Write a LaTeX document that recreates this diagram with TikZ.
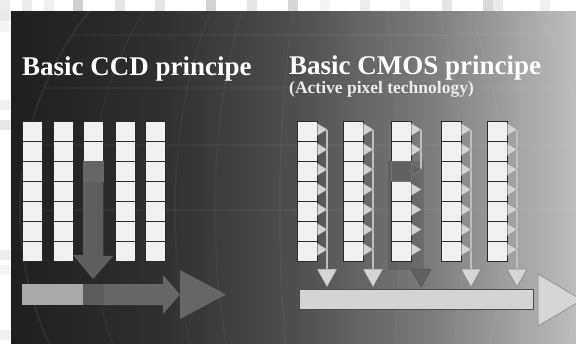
\documentclass[tikz,border=0pt]{standalone}
\usepackage{fontspec}
\setmainfont{Liberation Serif}

\definecolor{panelA}{HTML}{1F1F1F}
\definecolor{panelB}{HTML}{2E2E2E}
\definecolor{panelC}{HTML}{4E4E4E}
\definecolor{panelD}{HTML}{7E7E7E}
\definecolor{panelE}{HTML}{BEBEBE}
\definecolor{cellfill}{HTML}{F0F0F0}
\definecolor{cellline}{HTML}{2A2A2A}
\definecolor{ccdgray}{HTML}{666666}
\definecolor{ccdlight}{HTML}{A9A9A9}
\definecolor{cmosfill}{HTML}{D4D4D4}

\pgfdeclarehorizontalshading{panelshade}{100bp}{color(0bp)=(panelA); color(25bp)=(panelA);
  color(37.5bp)=(panelB); color(50bp)=(panelC); color(62.5bp)=(panelD); color(75bp)=(panelE);
  color(100bp)=(panelE)}

\tikzset{
  cell/.style={rectangle,draw=cellline,fill=cellfill,line width=0.8pt,
    minimum width=19.6pt,minimum height=20pt,inner sep=0pt,anchor=north west},
  title/.style={anchor=base west,inner sep=0pt,text=white,
    font=\bfseries\fontsize{27}{30}\selectfont},
  subtitle/.style={anchor=base west,inner sep=0pt,text=white!92!black,
    font=\bfseries\fontsize{17.5}{19}\selectfont},
  tap/.style={fill=cmosfill,draw=black!45,line width=0.3pt},
  busline/.style={draw=black!25,line width=1.1pt},
  outtri/.style={fill=cmosfill!95!white,draw=black!50,line width=0.5pt}
}

% one CMOS column: left edge, tap x, column index
\newcommand{\cmoscol}[3]{
  \foreach \r in {1,...,7}{
    \node [cell] (m#3\r) at (#1,{121+20*(\r-1)}) {};
    \fill [tap] (m#3\r.north east) ++(0,2.5) -- ++(10,6) -- ++(-10,6) -- cycle;
  }
}

\begin{document}
\begin{tikzpicture}[x=1pt,y=-1pt]
  \useasboundingbox (0,0) rectangle (576,343);

  % frame strips
  \fill [white] (0,0) rectangle (576,343);
  \foreach \x/\g in {0/7,22/8,44/6,73/18,115/10,155/10,206/17,247/10,288/16,
    320/4,360/7,400/5,442/10,483/15,493/8,540/6}
    \fill [black!\g] (\x,0) rectangle ++(10,11);
  \foreach \y/\g in {11/8,22/4,100/6,120/9,250/7,265/4,330/6}
    \fill [black!\g] (0,\y) rectangle ++(11,10);

  % panel with faint globe
  \coordinate (pnw) at (11,11);
  \coordinate (pse) at (576,343);
  \shade [shading=panelshade] (pnw) rectangle (pse);
  \begin{scope}
    \clip (pnw) rectangle (pse);
    \coordinate (gc) at (340,210);
    \draw [white,opacity=0.06,line width=2pt] (gc) circle [radius=320];
    \foreach \rx in {60,125,165,250}
      \draw [white,opacity=0.04,line width=1.5pt] (gc) ellipse [x radius=\rx,y radius=320];
    \foreach \dy/\hw in {-175/268,-122/296,-65/313,0/320}
      \draw [white,opacity=0.04,line width=1.5pt] (gc) ++(-\hw,\dy) -- ++({2*\hw},0);
  \end{scope}

  % ---- CCD ----
  \node [title] (ccdtitle) at (22,75) {Basic CCD principe};

  \foreach \c/\x in {1/22,2/53,4/115,5/145}
    \foreach \r in {1,...,7}
      \node [cell] (d\c\r) at (\x,{121+20*(\r-1)}) {};
  \node [cell] (d31) at (83,121) {};
  \node [cell] (d32) at (83,141) {};

  % vertical shift
  \fill [ccdgray!92!black] (d32.south west) -- (d32.south east) -- ++(0,94) -- ++(10,0)
    -- (93,279) -- (73,255) -- (83,255) -- cycle;
  \node [cell,fill=ccdgray,draw=black!60] (d33) at (83,161) {};

  % horizontal read-out
  \coordinate (hreg) at (22,284);
  \fill [ccdlight] (hreg) rectangle (83,305);
  \fill [ccdgray!90!black] (83,284) rectangle (104,305);
  \fill [ccdgray] (104,284) -- (163,284) -- (163,275) -- (180,294.5) -- (163,314)
    -- (163,305) -- (104,305) -- cycle;
  \fill [ccdgray] (180,270) -- (226,294.5) -- (180,319) -- cycle;

  % ---- CMOS ----
  \node [title] (cmostitle) at (289,74) {Basic CMOS principe};
  \node [subtitle] (cmossub) at (289,93) {(Active pixel technology)};

  \fill [black,opacity=0.12] (388,161) rectangle (424,270);

  \foreach \c/\x in {1/327,2/373,3/421,4/471,5/517}{
    \coordinate (top\c) at (\x,130);
    \coordinate (bot\c) at (\x,269);
  }
  \foreach \c in {1,2,4,5}
    \draw [busline] (top\c) -- (bot\c);
  \draw [busline] (top3) -- (421,170);

  \cmoscol{297}{327}{1}
  \cmoscol{343}{373}{2}
  \cmoscol{391}{421}{3}
  \cmoscol{441}{471}{4}
  \cmoscol{487}{517}{5}
  \node [cell,fill=black!62,draw=black!55] (m33) at (391,161) {};
  \fill [black!62] (m33.north east) ++(0.4,2.5) -- ++(10,6) -- ++(-10,6) -- cycle;
  \draw [black!45,line width=0.3pt] (m33.north east) ++(0.4,2.5) -- ++(10,6) -- ++(-10,6);

  \foreach \c in {1,2,4,5}
    \filldraw [outtri] (bot\c) ++(-10,0) -- ++(20,0) -- ++(-10,18) -- cycle;
  \filldraw [outtri,fill=black!62,draw=black!70] (bot3) ++(-10,0) -- ++(20,0) -- ++(-10,18) -- cycle;

  \node [rectangle,anchor=north west,fill=cmosfill,draw=black!70,line width=0.6pt,
    minimum width=234pt,minimum height=20pt,inner sep=0pt] (bus) at (299,289) {};
  \filldraw [outtri] (538,274) -- (582,300) -- (538,326) -- cycle;
\end{tikzpicture}
\end{document}
